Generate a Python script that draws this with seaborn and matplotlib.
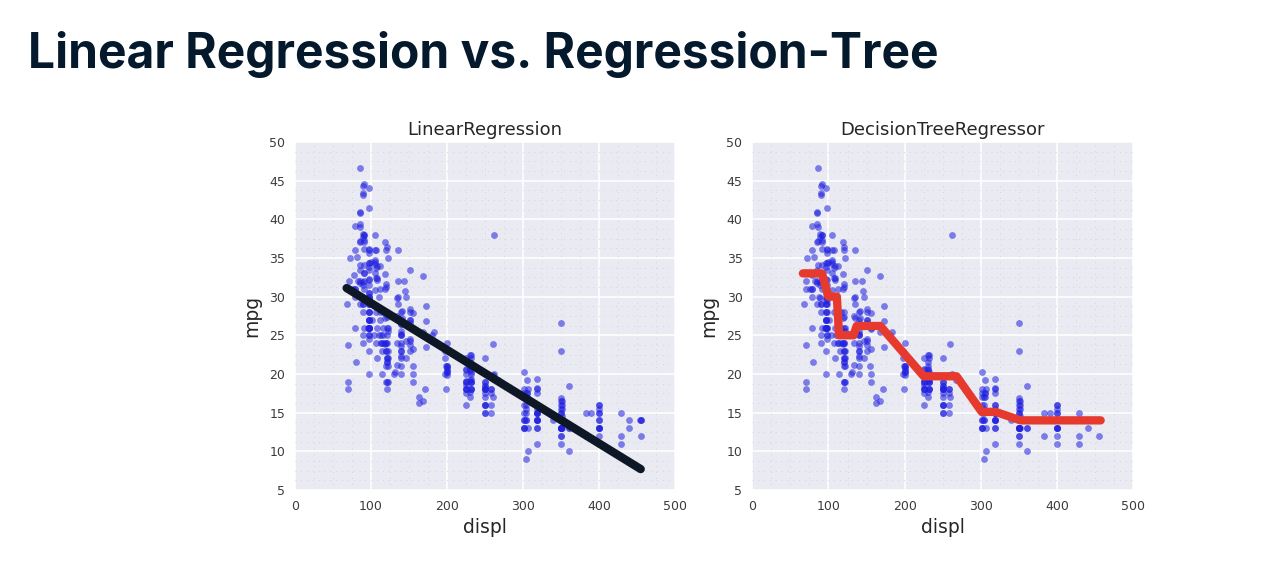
import numpy as np
import pandas as pd
import matplotlib
matplotlib.use('Agg')
import matplotlib.pyplot as plt
from matplotlib.ticker import AutoMinorLocator, MultipleLocator
import seaborn as sns

# scatter data (displacement vs mpg)
displ = [307, 350, 318, 304, 302, 429, 454, 440, 455, 390, 383, 340, 400, 455, 113, 198, 199, 200, 97, 97,
         110, 107, 104, 121, 199, 360, 307, 318, 304, 97, 140, 113, 98, 232, 225, 250, 250, 232, 350, 400,
         351, 318, 383, 400, 400, 258, 140, 250, 250, 122, 116, 79, 88, 71, 72, 97, 91, 113, 97.5, 97,
         140, 122, 350, 400, 318, 351, 304, 429, 350, 350, 400, 70, 304, 307, 302, 318, 121, 121, 120, 96,
         122, 97, 120, 98, 97, 350, 304, 350, 302, 318, 429, 400, 351, 318, 440, 455, 360, 225, 250, 232,
         250, 198, 97, 400, 400, 360, 350, 232, 97, 140, 108, 70, 122, 155, 98, 350, 400, 68, 116, 114,
         121, 318, 121, 156, 350, 198, 200, 232, 250, 79, 122, 71, 140, 250, 258, 225, 302, 350, 318, 302,
         304, 98, 79, 97, 76, 83, 90, 90, 116, 120, 108, 79, 225, 250, 250, 400, 350, 318, 351, 350,
         231, 250, 258, 225, 231, 262, 302, 97, 140, 232, 140, 134, 90, 119, 171, 90, 232, 115, 120, 121,
         121, 91, 107, 116, 140, 98, 101, 305, 318, 304, 351, 225, 250, 200, 232, 85, 98, 90, 91, 225,
         250, 250, 258, 97, 85, 97, 140, 130, 318, 120, 156, 168, 350, 350, 302, 318, 98, 111, 79, 122,
         85, 305, 260, 318, 302, 250, 231, 225, 250, 400, 350, 400, 318, 97, 151, 97, 140, 98, 98, 97,
         97, 146, 121, 80, 90, 98, 78, 85, 91, 260, 318, 302, 231, 200, 200, 140, 225, 232, 231, 200,
         225, 258, 305, 231, 302, 318, 98, 134, 119, 105, 134, 156, 151, 119, 131, 163, 121, 163, 89, 98,
         231, 200, 140, 232, 225, 305, 302, 351, 318, 350, 351, 267, 360, 89, 86, 98, 121, 183, 350, 141,
         260, 105, 105, 85, 91, 151, 173, 173, 151, 98, 89, 98, 86, 151, 140, 151, 225, 97, 134, 120,
         119, 108, 86, 156, 85, 90, 90, 121, 146, 91, 85, 97, 89, 168, 70, 122, 140, 107, 135, 151,
         156, 173, 135, 79, 86, 81, 97, 85, 89, 91, 105, 98, 98, 105, 100, 107, 108, 119, 120, 141,
         145, 168, 146, 231, 350, 200, 225, 112, 112, 112, 112, 135, 151, 140, 151, 105, 91, 91, 105, 98,
         120, 107, 108, 91, 91, 91, 181, 262, 156, 232, 144, 135, 151, 140, 97, 135, 120, 119]
mpg = [18, 15, 18, 16, 17, 15, 14, 14, 14, 15, 15, 14, 15, 14, 24, 22, 18, 21, 27, 26,
       25, 24, 25, 26, 21, 10, 10, 11, 9, 27, 28, 25, 25, 19, 16, 17, 19, 18, 14, 14,
       14, 14, 12, 13, 13, 18, 22, 19, 18, 23, 28, 30, 30, 31, 35, 27, 26, 24, 25, 23,
       20, 21, 13, 14, 15, 14, 17, 11, 13, 12, 13, 19, 15, 13, 13, 14, 18, 22, 21, 26,
       22, 28, 23, 28, 27, 13, 14, 13, 14, 15, 12, 13, 13, 14, 13, 12, 13, 18, 16, 18,
       18, 23, 26, 11, 12, 13, 12, 18, 20, 21, 22, 18, 19, 21, 26, 15, 16, 29, 24, 20,
       19, 15, 24, 20, 11, 20, 21, 19, 15, 31, 26, 32, 25, 16, 16, 18, 16, 13, 14, 14,
       14, 29, 26, 26, 31, 32, 28, 24, 26, 24, 26, 31, 19, 18, 15, 15, 16, 15, 16, 14,
       17, 16, 15, 18, 21, 20, 13, 29, 23, 20, 23, 24, 25, 24, 18, 29, 19, 23, 23, 22,
       25, 33, 28, 25, 25, 26, 27, 17.5, 16, 15.5, 14.5, 22, 22, 24, 22.5, 29, 24.5, 29, 33, 20,
       18, 18.5, 17.5, 29.5, 32, 28, 26.5, 20, 13, 19, 19, 16.5, 16.5, 13, 13, 13, 31.5, 30, 36, 25.5,
       33.5, 17.5, 17, 15.5, 15, 17.5, 20.5, 19, 18.5, 16, 15.5, 15.5, 16, 29, 24.5, 26, 25.5, 30.5, 33.5, 30,
       30.5, 22, 21.5, 21.5, 43.1, 36.1, 32.8, 39.4, 36.1, 19.9, 19.4, 20.2, 19.2, 20.5, 20.2, 25.1, 20.5, 19.4, 20.6, 20.8,
       18.6, 18.1, 19.2, 17.7, 18.1, 17.5, 30, 27.5, 27.2, 30.9, 21.1, 23.2, 23.8, 23.9, 20.3, 17, 21.6, 16.2, 31.5, 29.5,
       21.5, 19.8, 22.3, 20.2, 20.6, 17, 17.6, 16.5, 18.2, 16.9, 15.5, 19.2, 18.5, 31.9, 34.1, 35.7, 27.4, 25.4, 23, 27.2,
       23.9, 34.2, 34.5, 31.8, 37.3, 28.4, 28.8, 26.8, 33.5, 41.5, 38.1, 32.1, 37.2, 28, 26.4, 24.3, 19.1, 34.3, 29.8, 31.3,
       37, 32.2, 46.6, 27.9, 40.8, 44.3, 43.4, 36.4, 30, 44.6, 40.9, 33.8, 29.8, 32.7, 23.7, 35, 23.6, 32.4, 27.2, 26.6,
       25.8, 23.5, 30, 39.1, 39, 35.1, 32.3, 37, 37.7, 34.1, 34.7, 34.4, 29.9, 33, 34.5, 33.7, 32.4, 32.9, 31.6, 28.1,
       30.7, 25.4, 24.2, 22.4, 26.6, 20.2, 17.6, 28, 27, 34, 31, 29, 27, 24, 23, 36, 37, 31, 38, 36,
       36, 36, 34, 38, 32, 38, 25, 38, 26, 22, 32, 36, 27, 27, 44, 32, 28, 31]

# fitted lines
lr_x = [68, 455]
lr_y = [31.1, 7.7]
tree_x = [66.5, 91.5, 100, 111, 114, 133, 137, 168, 225, 268, 301, 319, 352, 457]
tree_y = [33.0, 33.0, 30.0, 30.0, 25.0, 25.0, 26.2, 26.2, 19.7, 19.7, 15.1, 15.1, 14.0, 14.0]

sns.set_theme(style='darkgrid')
plt.rcParams['font.family'] = ['DejaVu Sans']

fig = plt.figure(figsize=(12.88, 5.88), dpi=100)
fig.patch.set_facecolor('white')

fig.text(28 / 1288, 1 - 68 / 588, 'Linear Regression vs. Regression-Tree',
         fontsize=34.5, fontweight='bold', family=['Inter', 'DejaVu Sans'],
         color='#05192d', va='baseline', ha='left')

ax1 = fig.add_axes([0.229, 0.1667, 0.295, 0.592])
ax2 = fig.add_axes([0.584, 0.1667, 0.296, 0.592])

panels = [(ax1, 'LinearRegression', lr_x, lr_y, '#0d1726'),
          (ax2, 'DecisionTreeRegressor', tree_x, tree_y, '#e63a2e')]

for ax, title, lx, ly, lc in panels:
    ax.set_facecolor('#eaeaf2')
    sns.scatterplot(x=displ, y=mpg, color='#2020e0', alpha=0.55, s=24, linewidth=0, ax=ax, zorder=3)
    sns.lineplot(x=lx, y=ly, color=lc, linewidth=6, sort=False, estimator=None, ax=ax,
                 zorder=4, solid_capstyle='round', solid_joinstyle='round')
    ax.set_xlim(0, 500)
    ax.set_ylim(5, 50)
    ax.xaxis.set_major_locator(MultipleLocator(100))
    ax.yaxis.set_major_locator(MultipleLocator(5))
    ax.xaxis.set_minor_locator(AutoMinorLocator(4))
    ax.yaxis.set_minor_locator(AutoMinorLocator(4))
    ax.grid(which='major', color='white', linewidth=1.1)
    ax.grid(which='minor', color='#cdcdd6', linewidth=0.6, linestyle=(0, (1, 6)))
    ax.tick_params(which='both', length=0, labelsize=9, labelcolor='#3c3c3c', pad=7)
    ax.set_title(title, fontsize=13, color='#262626', pad=5)
    ax.set_xlabel('displ', fontsize=13.5, color='#262626', labelpad=4)
    ax.set_ylabel('mpg', fontsize=13.5, color='#262626', labelpad=6)
    for s in ax.spines.values():
        s.set_visible(False)

fig.savefig('out.png', dpi=100)
